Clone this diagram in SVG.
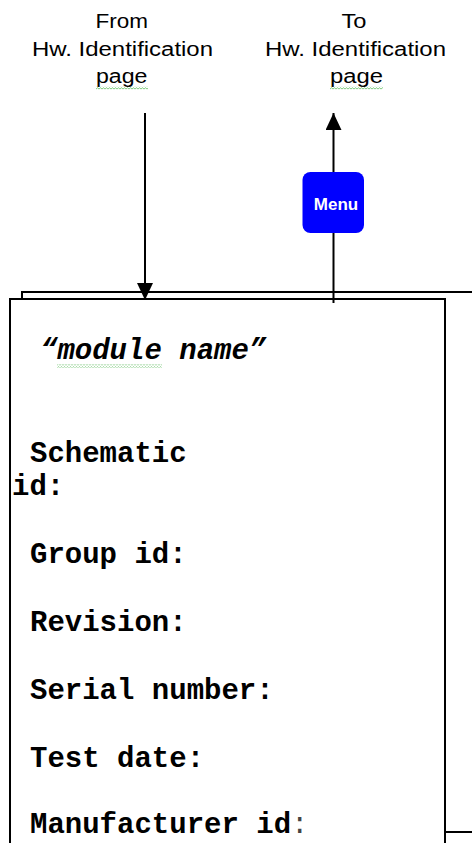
<svg xmlns="http://www.w3.org/2000/svg" width="472" height="843" viewBox="0 0 472 843">
  <style>
    .lbl { font-family: "Liberation Sans", Arial, sans-serif; font-size: 20px; fill: #000; }
    .mono { font-family: "Liberation Mono", "Courier New", monospace; font-size: 29px; font-weight: bold; fill: #000; }
    .page { fill: #fff; stroke: #000; stroke-width: 2; }
    .conn { stroke: #000; stroke-width: 2; fill: none; }
    .menu-text { font-family: "Liberation Sans", Arial, sans-serif; font-size: 17px; font-weight: bold; fill: #fff; }
  </style>
  <defs>
    <pattern id="squiggle" width="3" height="3" patternUnits="userSpaceOnUse">
      <path d="M0 2.2 L1.5 0.8 L3 2.2" stroke="#4cb84c" stroke-width="0.8" fill="none"/>
    </pattern>
    <marker id="arrow" viewBox="0 0 17 16" refX="17" refY="8" markerWidth="17" markerHeight="16" markerUnits="userSpaceOnUse" orient="auto">
      <path d="M0 0 L17 8 L0 16 Z" fill="#000"/>
    </marker>
  </defs>

  <g id="label-from">
    <text class="lbl" x="95.5" y="28" textLength="52.5" lengthAdjust="spacingAndGlyphs">From</text>
    <text class="lbl" x="32" y="55.5" textLength="181" lengthAdjust="spacingAndGlyphs">Hw. Identification</text>
    <text class="lbl" x="96" y="83" textLength="51.5" lengthAdjust="spacingAndGlyphs">page</text>
    <rect x="96" y="86.5" width="52" height="3" fill="url(#squiggle)"/>
  </g>

  <g id="label-to">
    <text class="lbl" x="341.5" y="28" textLength="25" lengthAdjust="spacingAndGlyphs">To</text>
    <text class="lbl" x="265" y="55.5" textLength="181" lengthAdjust="spacingAndGlyphs">Hw. Identification</text>
    <text class="lbl" x="330" y="83" textLength="53" lengthAdjust="spacingAndGlyphs">page</text>
    <rect x="330" y="86.5" width="53" height="3" fill="url(#squiggle)"/>
  </g>

  <g id="page-back">
    <rect class="page" x="22" y="292" width="470" height="540"/>
  </g>

  <g id="page-front">
    <rect class="page" x="10" y="299" width="435" height="560"/>
    <text class="mono" x="40" y="359" font-style="italic">“module name”</text>
    <rect x="57" y="364.5" width="105" height="3" fill="url(#squiggle)"/>
    <text class="mono" x="30" y="462">Schematic</text>
    <text class="mono" x="12" y="495">id:</text>
    <text class="mono" x="30" y="563">Group id:</text>
    <text class="mono" x="30" y="631">Revision:</text>
    <text class="mono" x="30" y="699">Serial number:</text>
    <text class="mono" x="30" y="767">Test date:</text>
    <text class="mono" x="30" y="833">Manufacturer id<tspan font-weight="normal" fill="#444">:</tspan></text>
  </g>

  <g id="connectors">
    <line class="conn" x1="145" y1="113" x2="145" y2="300" marker-end="url(#arrow)"/>
    <line class="conn" x1="333.5" y1="303" x2="333.5" y2="113" marker-end="url(#arrow)"/>
  </g>

  <g id="menu">
    <rect x="302.5" y="172" width="61.5" height="61" rx="8" ry="8" fill="#0000ff"/>
    <text class="menu-text" x="336" y="209.5" text-anchor="middle">Menu</text>
  </g>
</svg>
